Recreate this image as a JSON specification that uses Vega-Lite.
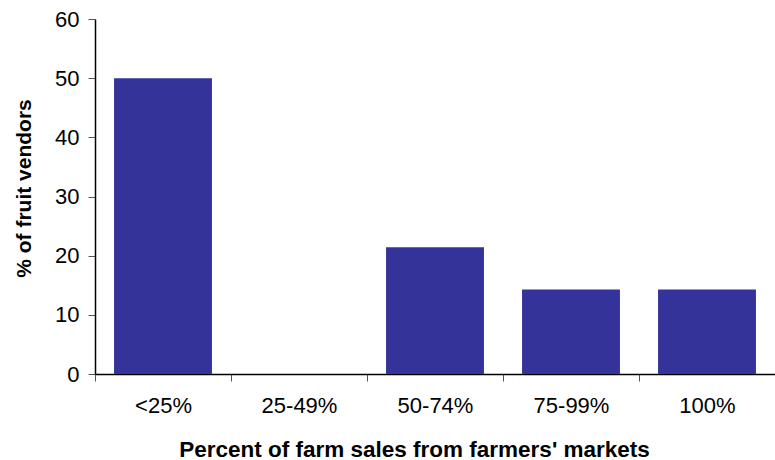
{
  "$schema": "https://vega.github.io/schema/vega-lite/v6.json",
  "autosize": "none",
  "width": 680,
  "height": 355,
  "padding": {"left": 95, "top": 19, "right": 0, "bottom": 86},
  "background": "white",
  "config": {
    "view": {"stroke": null},
    "font": "Liberation Sans"
  },
  "data": {
    "values": [
      {"share": "<25%", "pct": 50},
      {"share": "25-49%", "pct": 0},
      {"share": "50-74%", "pct": 21.43},
      {"share": "75-99%", "pct": 14.29},
      {"share": "100%", "pct": 14.29}
    ]
  },
  "mark": {"type": "bar", "color": "#333399", "width": {"band": 0.72}},
  "encoding": {
    "x": {
      "field": "share",
      "type": "nominal",
      "sort": null,
      "scale": {"paddingInner": 0, "paddingOuter": 0},
      "axis": {
        "title": "Percent of farm sales from farmers' markets",
        "titleFont": "Liberation Sans",
        "titleFontSize": 22.5,
        "titleFontWeight": "bold",
        "titleColor": "black",
        "titlePadding": 22,
        "titleX": 319,
        "labelAngle": 0,
        "labelFont": "Liberation Sans",
        "labelFontSize": 22,
        "labelColor": "black",
        "labelPadding": 14,
        "tickBand": "extent",
        "tickSize": 7,
        "tickColor": "#555555",
        "domainColor": "black",
        "domainWidth": 1.5,
        "grid": false
      }
    },
    "y": {
      "field": "pct",
      "type": "quantitative",
      "scale": {"domain": [0, 60], "nice": false},
      "axis": {
        "title": "% of fruit vendors",
        "titleFont": "Liberation Sans",
        "titleFontSize": 21,
        "titleFontWeight": "bold",
        "titleColor": "black",
        "titlePadding": 20,
        "titleY": 169,
        "values": [0, 10, 20, 30, 40, 50, 60],
        "labelFont": "Liberation Sans",
        "labelFontSize": 22,
        "labelColor": "black",
        "labelPadding": 9,
        "tickSize": 7,
        "tickColor": "#555555",
        "domainColor": "black",
        "domainWidth": 1.5,
        "grid": false
      }
    }
  }
}
